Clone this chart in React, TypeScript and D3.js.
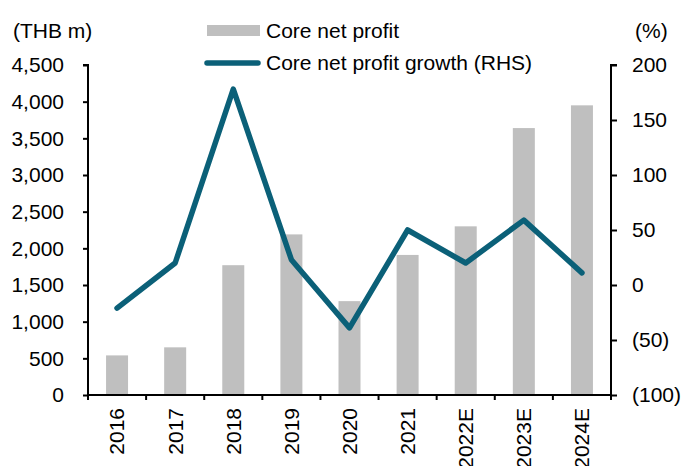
import { useEffect, useRef } from 'react';
import * as d3 from 'd3';

const years = ['2016', '2017', '2018', '2019', '2020', '2021', '2022E', '2023E', '2024E'];
const coreNetProfit = [540, 650, 1770, 2190, 1280, 1910, 2300, 3640, 3950];
const profitGrowth = [-21, 20, 178, 23, -39, 50, 20, 59, 11];
const leftTicks = [0, 500, 1000, 1500, 2000, 2500, 3000, 3500, 4000, 4500];
const rightTicks = [-100, -50, 0, 50, 100, 150, 200];

const WIDTH = 693;
const HEIGHT = 466;
const FONT = '"Liberation Sans", Arial, sans-serif';
const FS = '21px';
const BAR_COLOR = '#bfbfbf';
const LINE_COLOR = '#0b6078';

const fmtLeft = d3.format(',');
const fmtRight = (v: number) => (v < 0 ? `(${Math.abs(v)})` : `${v}`);

export default function App() {
  const svgRef = useRef<SVGSVGElement>(null);

  useEffect(() => {
    if (!svgRef.current) return;
    const svg = d3.select(svgRef.current);
    svg.selectAll('*').remove();

    const plot = { left: 88, right: 611, top: 65, bottom: 395 };

    // category band, bars drawn narrow in the middle of each
    const band = d3.scaleBand<string>().domain(years).range([plot.left, plot.right]);
    const barW = 22;

    const yLeft = d3.scaleLinear().domain([0, 4500]).range([plot.bottom, plot.top]);
    const yRight = d3.scaleLinear().domain([-100, 200]).range([plot.bottom, plot.top]);

    const g = svg.append('g').attr('font-family', FONT);

    // bars
    g.selectAll('.bar')
      .data(years)
      .join('rect')
      .attr('class', 'bar')
      .attr('x', (d) => band(d)! + band.bandwidth() / 2 - barW / 2)
      .attr('width', barW)
      .attr('y', (_, i) => yLeft(coreNetProfit[i]))
      .attr('height', (_, i) => plot.bottom - yLeft(coreNetProfit[i]))
      .attr('fill', BAR_COLOR);

    // growth line
    const line = d3.line<number>()
      .x((_, i) => band(years[i])! + band.bandwidth() / 2)
      .y((d) => yRight(d));
    g.append('path')
      .datum(profitGrowth)
      .attr('d', line)
      .attr('fill', 'none')
      .attr('stroke', LINE_COLOR)
      .attr('stroke-width', 5.5)
      .attr('stroke-linejoin', 'round')
      .attr('stroke-linecap', 'round');

    // left axis
    const leftAxis = d3.axisLeft(yLeft).tickValues(leftTicks).tickSize(5).tickPadding(19)
      .tickFormat((d) => fmtLeft(d as number));
    g.append('g')
      .attr('transform', `translate(${plot.left},0)`)
      .call(leftAxis)
      .call((a) => a.select('.domain').attr('stroke', '#000').attr('stroke-width', 2).attr('d', `M-5,${plot.top}H0V${plot.bottom}`))
      .call((a) => a.selectAll('.tick line').attr('stroke', '#000').attr('stroke-width', 2))
      .call((a) => a.selectAll('.tick text').attr('fill', '#000').attr('font-size', FS).attr('font-family', FONT));

    // right axis
    const rightAxis = d3.axisRight(yRight).tickValues(rightTicks).tickSize(6).tickPadding(15)
      .tickFormat((d) => fmtRight(d as number));
    g.append('g')
      .attr('transform', `translate(${plot.right},0)`)
      .call(rightAxis)
      .call((a) => a.select('.domain').attr('stroke', '#000').attr('stroke-width', 2).attr('d', `M6,${plot.top}H0V${plot.bottom}`))
      .call((a) => a.selectAll('.tick line').attr('stroke', '#000').attr('stroke-width', 2))
      .call((a) => a.selectAll('.tick text').attr('fill', '#000').attr('font-size', FS).attr('font-family', FONT));

    // bottom axis
    g.append('line')
      .attr('x1', plot.left - 1).attr('x2', plot.right + 1)
      .attr('y1', plot.bottom).attr('y2', plot.bottom)
      .attr('stroke', '#000').attr('stroke-width', 2);
    const bounds = [...years.map((d) => band(d)!), plot.right];
    g.selectAll('.xtick')
      .data(bounds)
      .join('line')
      .attr('class', 'xtick')
      .attr('x1', (d) => d).attr('x2', (d) => d)
      .attr('y1', plot.bottom).attr('y2', plot.bottom + 5)
      .attr('stroke', '#000').attr('stroke-width', 2);
    g.selectAll('.xlabel')
      .data(years)
      .join('text')
      .attr('class', 'xlabel')
      .attr('transform', (d) => `translate(${band(d)! + band.bandwidth() / 2},${plot.bottom + 13}) rotate(-90)`)
      .attr('text-anchor', 'end')
      .attr('dy', '0.35em')
      .attr('font-size', FS)
      .text((d) => d);

    // unit labels
    g.append('text').attr('x', 13).attr('y', 31).attr('dy', '0.35em').attr('font-size', FS)
      .style('white-space', 'pre').text('(THB m)');
    g.append('text').attr('x', 635).attr('y', 31).attr('dy', '0.35em').attr('font-size', FS).text('(%)');

    // legend
    g.append('rect').attr('x', 207).attr('y', 25).attr('width', 53).attr('height', 11).attr('fill', BAR_COLOR);
    g.append('text').attr('x', 266).attr('y', 31).attr('dy', '0.35em').attr('font-size', FS).text('Core net profit');
    g.append('line').attr('x1', 207).attr('x2', 258).attr('y1', 63).attr('y2', 63)
      .attr('stroke', LINE_COLOR).attr('stroke-width', 5.5).attr('stroke-linecap', 'round');
    g.append('text').attr('x', 266).attr('y', 63).attr('dy', '0.35em').attr('font-size', FS).text('Core net profit growth (RHS)');
  }, []);

  return (
    <div style={{ position: 'absolute', left: 0, top: 0, width: WIDTH, height: HEIGHT, background: '#fff' }}>
      <svg ref={svgRef} width={WIDTH} height={HEIGHT} style={{ display: 'block' }} />
    </div>
  );
}
